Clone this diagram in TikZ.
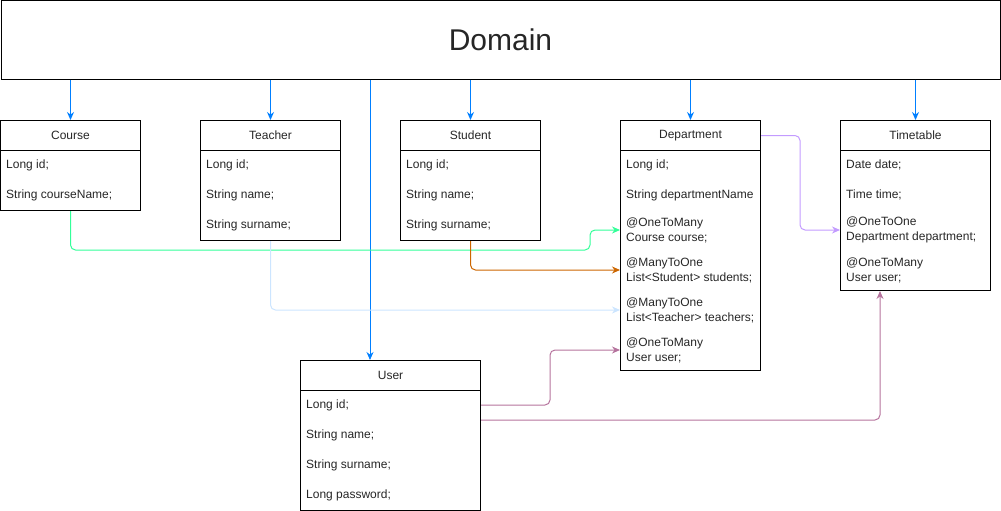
\documentclass[tikz,border=0pt]{standalone}
\usepackage{fontspec}
\setmainfont{Liberation Sans}
\usetikzlibrary{arrows.meta}
\definecolor{domainblue}{HTML}{007FFF}
\definecolor{coursegreen}{HTML}{33FF99}
\definecolor{studentorange}{HTML}{CC6600}
\definecolor{teacherblue}{HTML}{CCE5FF}
\definecolor{userpink}{HTML}{B5739D}
\definecolor{deptviolet}{HTML}{C39BFF}
\tikzset{
  clshead/.style={draw, line width=1pt, minimum width=#1, minimum height=30pt,
    anchor=north west, inner sep=0pt, text=black!85, font=\fontsize{12}{15}\selectfont},
  clsbody/.style 2 args={draw, line width=1pt, minimum width=#1, minimum height=#2,
    anchor=north west, inner sep=0pt},
  attr/.style={anchor=west, inner sep=0pt, align=left, text=black!85,
    font=\fontsize{12}{15}\selectfont},
  link/.style={line width=1pt, rounded corners=5pt, -{Stealth[length=8pt,width=7pt]}}
}
\begin{document}
\begin{tikzpicture}[x=1pt,y=-1pt]
  \useasboundingbox (0,0) rectangle (1001,511);
  \node[draw, line width=1pt, minimum width=999pt, minimum height=78pt, anchor=north west,
    inner sep=0pt, text=black!85, font=\fontsize{30}{36}\selectfont] (domain) at (0.5,0.5) {Domain};
  % Course
  \node[clshead=140pt] (course) at (0,120) {Course};
  \node[clsbody={140pt}{60pt}] (coursebody) at (0,150) {};
  \node[attr] (courseid) at (6,165) {Long id;};
  \node[attr] (coursename) at (6,195) {String courseName;};
  % Teacher
  \node[clshead=140pt] (teacher) at (200,120) {Teacher};
  \node[clsbody={140pt}{90pt}] (teacherbody) at (200,150) {};
  \node[attr] (teacherid) at (206,165) {Long id;};
  \node[attr] (teachername) at (206,195) {String name;};
  \node[attr] (teachersurname) at (206,225) {String surname;};
  % Student
  \node[clshead=140pt] (student) at (400,120) {Student};
  \node[clsbody={140pt}{90pt}] (studentbody) at (400,150) {};
  \node[attr] (studentid) at (406,165) {Long id;};
  \node[attr] (studentname) at (406,195) {String name;};
  \node[attr] (studentsurname) at (406,225) {String surname;};
  % Department
  \node[clshead=140pt] (dept) at (620,120) {Department};
  \node[clsbody={140pt}{220pt}] (deptbody) at (620,150) {};
  \node[attr] (deptid) at (626,165) {Long id;};
  \node[attr] (deptname) at (626,195) {String departmentName};
  \node[attr] (deptcourse) at (626,230) {@OneToMany\\Course course;};
  \node[attr] (deptstudents) at (626,270) {@ManyToOne\\List<Student> students;};
  \node[attr] (deptteachers) at (626,310) {@ManyToOne\\List<Teacher> teachers;};
  \node[attr] (deptuser) at (626,350) {@OneToMany\\User user;};
  % Timetable
  \node[clshead=150pt] (tt) at (840,120) {Timetable};
  \node[clsbody={150pt}{140pt}] (ttbody) at (840,150) {};
  \node[attr] (ttdate) at (846,165) {Date date;};
  \node[attr] (tttime) at (846,195) {Time time;};
  \node[attr] (ttdept) at (846,230) {@OneToOne\\Department department;};
  \node[attr] (ttuser) at (846,270) {@OneToMany\\User user;};
  % User
  \node[clshead=180pt] (user) at (300,360) {User};
  \node[clsbody={180pt}{120pt}] (userbody) at (300,390) {};
  \node[attr] (userid) at (306,405) {Long id;};
  \node[attr] (username) at (306,435) {String name;};
  \node[attr] (usersurname) at (306,465) {String surname;};
  \node[attr] (userpassword) at (306,495) {Long password;};
  % Domain links
  \begin{scope}[domainblue]
    \draw[link] (domain.south -| course.north) -- (course.north);
    \draw[link] (domain.south -| teacher.north) -- (teacher.north);
    \draw[link] (domain.south -| student.north) -- (student.north);
    \draw[link] (domain.south -| dept.north) -- (dept.north);
    \draw[link] (domain.south -| tt.north) -- (tt.north);
    \draw[link] (domain.south -| 370,0) -- (user.north -| 370,0);
  \end{scope}
  % relations
  \draw[link, coursegreen] (coursebody.south) |- (590,250) |- (deptbody.west |- deptcourse.west);
  \draw[link, studentorange] (studentbody.south) |- (deptbody.west |- deptstudents.west);
  \draw[link, teacherblue] (teacherbody.south) |- (deptbody.west |- deptteachers.west);
  \draw[link, userpink] (userbody.east |- userid.west) -| (550,350) -- (deptbody.west |- deptuser.west);
  \draw[link, userpink] (userbody.east |- 0,420) -| (ttbody.south -| 880,0);
  \draw[link, deptviolet] (dept.east) -| (800,230) -- (ttbody.west |- ttdept.west);
\end{tikzpicture}
\end{document}
